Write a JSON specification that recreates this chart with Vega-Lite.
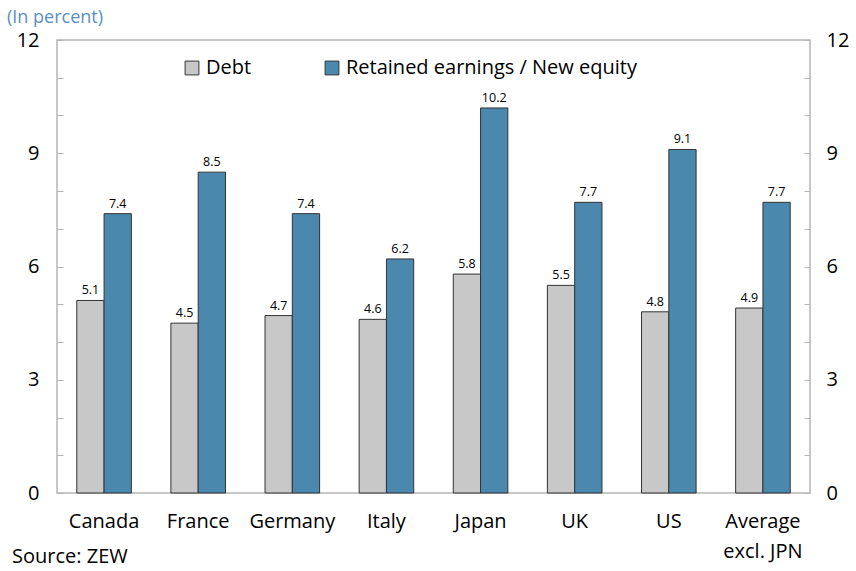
{
  "$schema": "https://vega.github.io/schema/vega-lite/v6.json",
  "width": 753,
  "height": 453,
  "autosize": "none",
  "padding": {"left": 57, "top": 40, "right": 46, "bottom": 78},
  "config": {
    "font": "Open Sans",
    "view": {"stroke": "#b5b5b5", "strokeWidth": 1.5},
    "axis": {"labelFont": "Open Sans", "labelColor": "#000"}
  },
  "data": {
    "values": [
      {"country": "Canada", "type": "Debt", "value": 5.1},
      {"country": "Canada", "type": "Retained earnings / New equity", "value": 7.4},
      {"country": "France", "type": "Debt", "value": 4.5},
      {"country": "France", "type": "Retained earnings / New equity", "value": 8.5},
      {"country": "Germany", "type": "Debt", "value": 4.7},
      {"country": "Germany", "type": "Retained earnings / New equity", "value": 7.4},
      {"country": "Italy", "type": "Debt", "value": 4.6},
      {"country": "Italy", "type": "Retained earnings / New equity", "value": 6.2},
      {"country": "Japan", "type": "Debt", "value": 5.8},
      {"country": "Japan", "type": "Retained earnings / New equity", "value": 10.2},
      {"country": "UK", "type": "Debt", "value": 5.5},
      {"country": "UK", "type": "Retained earnings / New equity", "value": 7.7},
      {"country": "US", "type": "Debt", "value": 4.8},
      {"country": "US", "type": "Retained earnings / New equity", "value": 9.1},
      {"country": "Average excl. JPN", "type": "Debt", "value": 4.9},
      {"country": "Average excl. JPN", "type": "Retained earnings / New equity", "value": 7.7}
    ]
  },
  "encoding": {
    "x": {
      "field": "country",
      "type": "nominal",
      "sort": null,
      "scale": {"paddingInner": 0.42, "paddingOuter": 0.21},
      "axis": {
        "title": null,
        "labelAngle": 0,
        "labelFontSize": 20,
        "labelPadding": 18,
        "labelLineHeight": 30,
        "ticks": false,
        "domain": false,
        "labelExpr": "datum.value == 'Average excl. JPN' ? ['Average', 'excl. JPN'] : datum.value"
      }
    },
    "xOffset": {"field": "type", "type": "nominal", "sort": null, "scale": {"paddingInner": 0, "paddingOuter": 0}},
    "y": {
      "field": "value",
      "type": "quantitative",
      "scale": {"domain": [0, 12], "nice": false}
    }
  },
  "layer": [
    {
      "mark": {"type": "bar", "stroke": "#333333", "strokeWidth": 1},
      "encoding": {
        "y": {
          "field": "value",
          "type": "quantitative",
          "scale": {"domain": [0, 12], "nice": false},
          "axis": {
            "orient": "left",
            "title": null,
            "values": [0, 1, 2, 3, 4, 5, 6, 7, 8, 9, 10, 11, 12],
            "labelExpr": "datum.value % 3 == 0 ? datum.label : ''",
            "labelFontSize": 20,
            "tickSize": -6,
            "tickColor": "#b5b5b5",
            "domain": false,
            "grid": false,
            "labelPadding": 24
          }
        },
        "color": {
          "field": "type",
          "type": "nominal",
          "sort": null,
          "scale": {"range": ["#c8c8c8", "#4a89ad"]},
          "legend": {
            "title": null,
            "orient": "none",
            "legendX": 125,
            "legendY": 18,
            "direction": "horizontal",
            "symbolType": "square",
            "symbolSize": 190,
            "symbolStrokeColor": "#333333",
            "symbolStrokeWidth": 1,
            "symbolOpacity": 1,
            "labelFontSize": 20,
            "labelFont": "Open Sans",
            "labelColor": "#000",
            "labelLimit": 500,
            "columnPadding": 70,
            "labelOffset": 4
          }
        }
      }
    },
    {
      "mark": {"type": "text", "dy": -10, "fontSize": 12.5, "color": "#000"},
      "encoding": {
        "y": {
          "field": "value",
          "type": "quantitative",
          "scale": {"domain": [0, 12], "nice": false},
          "axis": {
            "orient": "right",
            "title": null,
            "values": [0, 1, 2, 3, 4, 5, 6, 7, 8, 9, 10, 11, 12],
            "labelExpr": "datum.value % 3 == 0 ? datum.label : ''",
            "labelFontSize": 20,
            "tickSize": -6,
            "tickColor": "#b5b5b5",
            "domain": false,
            "grid": false,
            "labelPadding": 22
          }
        },
        "text": {"field": "value", "type": "quantitative", "format": ".1f"}
      }
    },
    {
      "mark": {"type": "text", "align": "left", "baseline": "middle", "fontSize": 20, "color": "#000", "x": -45, "y": 517},
      "data": {"values": [{"label": "Source: ZEW"}]},
      "encoding": {"text": {"field": "label"}, "x": null, "y": null, "xOffset": null}
    },
    {
      "mark": {"type": "text", "align": "left", "baseline": "middle", "fontSize": 18, "color": "#5a8fbf", "x": -50, "y": -22},
      "data": {"values": [{"label": "(In percent)"}]},
      "encoding": {"text": {"field": "label"}, "x": null, "y": null, "xOffset": null}
    }
  ],
  "resolve": {"axis": {"y": "independent"}}
}
